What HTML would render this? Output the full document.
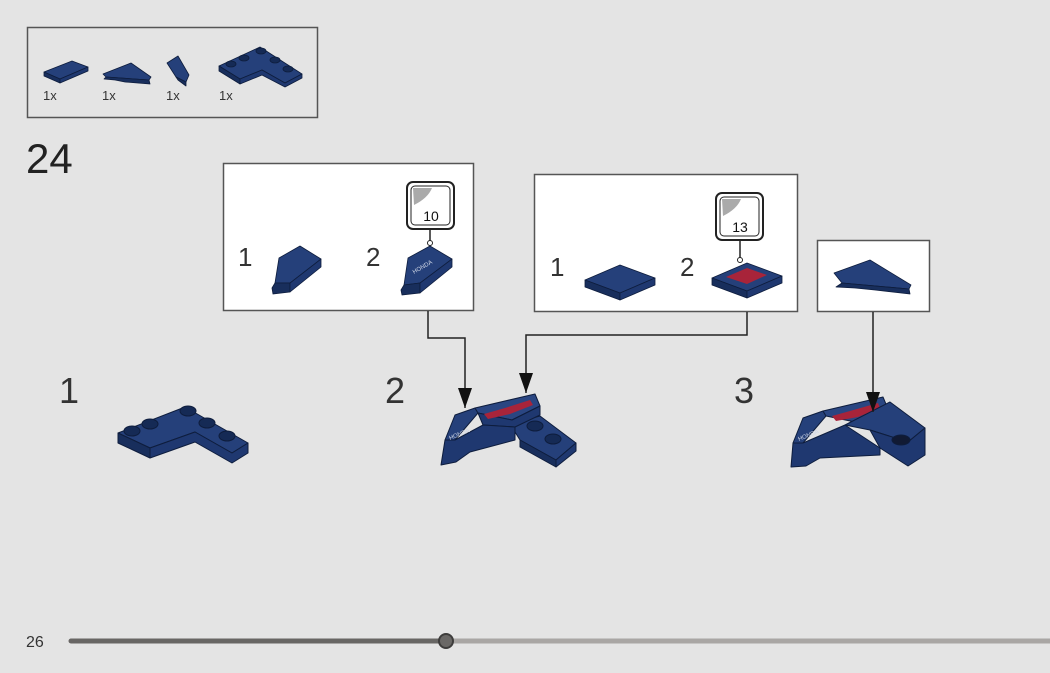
<!DOCTYPE html>
<html><head><meta charset="utf-8"><style>
html,body{margin:0;padding:0;background:#e4e4e4;}
svg{display:block;font-family:"Liberation Sans",sans-serif;}
</style></head><body>
<svg width="1050" height="673" viewBox="0 0 1050 673" xmlns="http://www.w3.org/2000/svg">
<defs>
<marker id="ar" viewBox="0 0 20 14" refX="20" refY="7" markerWidth="20" markerHeight="14" orient="auto" markerUnits="userSpaceOnUse">
<path d="M0,0 L20,7 L0,14 Z" fill="#111"/></marker>
</defs>
<rect width="1050" height="673" fill="#e4e4e4"/>

<rect x="27.5" y="27.5" width="290" height="90" fill="#e4e4e4" stroke="#555" stroke-width="1.5"/>
<g stroke="#0e1d3d" stroke-width="0.8" stroke-linejoin="round">
 <polygon points="44,72 72,61 88,67 60,79" fill="#25407a"/>
 <polygon points="44,72 60,79 60,83 44,76" fill="#182e5c"/>
 <polygon points="60,79 88,67 88,71 60,83" fill="#1f3870"/>
 <polygon points="103,74 131,63 151,77 149,80 106,77" fill="#25407a"/>
 <polygon points="106,77 149,80 150,84 125,82 115,80 104,79" fill="#182e5c"/>
 <polygon points="167,63 178,56 189,75 186,82 176,77" fill="#25407a"/>
 <polygon points="176,77 186,82 186,86 178,80" fill="#182e5c"/>
 <polygon points="219,66 260,47 302,74 285,83 262,70 240,79" fill="#25407a"/>
 <polygon points="219,66 240,79 240,84 219,71" fill="#182e5c"/>
 <polygon points="240,79 262,70 285,83 302,74 302,78 285,87 262,75 240,84" fill="#1f3870"/>
 <ellipse cx="231" cy="64" rx="5" ry="3" fill="#152a55"/>
 <ellipse cx="244" cy="58" rx="5" ry="3" fill="#152a55"/>
 <ellipse cx="261" cy="51" rx="5" ry="3" fill="#152a55"/>
 <ellipse cx="275" cy="60" rx="5" ry="3" fill="#152a55"/>
 <ellipse cx="288" cy="69" rx="5" ry="3" fill="#152a55"/>
</g>
<g font-size="13" fill="#333">
 <text x="43" y="100">1x</text><text x="102" y="100">1x</text><text x="166" y="100">1x</text><text x="219" y="100">1x</text>
</g>

<text x="26" y="173" font-size="42" fill="#222">24</text>

<rect x="223.5" y="163.5" width="250" height="147" fill="#fff" stroke="#555" stroke-width="1.5"/>
<rect x="534.5" y="174.5" width="263" height="137" fill="#fff" stroke="#555" stroke-width="1.5"/>
<rect x="817.5" y="240.5" width="112" height="71" fill="#fff" stroke="#555" stroke-width="1.5"/>

<g font-size="26" fill="#333">
 <text x="238" y="266">1</text><text x="366" y="266">2</text>
 <text x="550" y="276">1</text><text x="680" y="276">2</text>
</g>

<g>
 <rect x="407" y="182" width="47" height="47" rx="6" fill="#fff" stroke="#222" stroke-width="2"/>
 <rect x="411" y="186" width="39" height="39" rx="4" fill="#fff" stroke="#222" stroke-width="1"/>
 <path d="M413,188 L432,188 Q428,198 414,205 Z" fill="#aaa"/>
 <text x="431" y="221" font-size="14" text-anchor="middle" fill="#111">10</text>
 <line x1="430" y1="229" x2="430" y2="241" stroke="#222" stroke-width="1.5"/>
 <circle cx="430" cy="243" r="2.5" fill="#fff" stroke="#222"/>
 <rect x="716" y="193" width="47" height="47" rx="6" fill="#fff" stroke="#222" stroke-width="2"/>
 <rect x="720" y="197" width="39" height="39" rx="4" fill="#fff" stroke="#222" stroke-width="1"/>
 <path d="M722,199 L741,199 Q737,209 723,216 Z" fill="#aaa"/>
 <text x="740" y="232" font-size="14" text-anchor="middle" fill="#111">13</text>
 <line x1="740" y1="240" x2="740" y2="258" stroke="#222" stroke-width="1.5"/>
 <circle cx="740" cy="260" r="2.5" fill="#fff" stroke="#222"/>
</g>

<g stroke="#0e1d3d" stroke-width="0.8" stroke-linejoin="round">
 <polygon points="279,258 300,246 321,259 305,275 290,283 275,283" fill="#25407a"/>
 <polygon points="272,288 275,283 290,283 290,292 273,294" fill="#182e5c"/>
 <polygon points="290,283 321,259 321,267 290,292" fill="#1f3870"/>
 <polygon points="408,258 430,246 452,259 436,275 420,283 404,285" fill="#25407a"/>
 <polygon points="401,290 404,285 420,283 420,293 402,295" fill="#182e5c"/>
 <polygon points="420,283 452,259 452,267 420,293" fill="#1f3870"/>
 <polygon points="585,280 620,265 655,278 620,293" fill="#25407a"/>
 <polygon points="585,280 620,293 620,300 585,287" fill="#182e5c"/>
 <polygon points="620,293 655,278 655,285 620,300" fill="#1f3870"/>
 <polygon points="712,278 747,263 782,276 747,291" fill="#25407a"/>
 <polygon points="712,278 747,291 747,298 712,285" fill="#182e5c"/>
 <polygon points="747,291 782,276 782,283 747,298" fill="#1f3870"/>
 <polygon points="726,277 747,268 767,275 747,284" fill="#a8243a" stroke="none"/>
 <polygon points="834,273 870,260 911,285 909,289 842,283" fill="#25407a"/>
 <polygon points="842,283 909,289 910,294 875,290 855,288 836,287" fill="#182e5c"/>
</g>
<text x="414" y="274" font-size="6" fill="#cfd6e6" transform="rotate(-30 414 274)">HONDA</text>

<g font-size="36" fill="#333">
 <text x="59" y="403">1</text><text x="385" y="403">2</text><text x="734" y="403">3</text>
</g>

<g stroke="#0e1d3d" stroke-width="1" stroke-linejoin="round">
 <polygon points="118,433 185,407 248,443 232,453 195,432 150,448" fill="#25407a"/>
 <polygon points="118,433 150,448 150,458 118,443" fill="#182e5c"/>
 <polygon points="150,448 195,432 232,453 248,443 248,453 232,463 195,442 150,458" fill="#1f3870"/>
 <ellipse cx="132" cy="431" rx="8" ry="5" fill="#152a55"/>
 <ellipse cx="150" cy="424" rx="8" ry="5" fill="#152a55"/>
 <ellipse cx="188" cy="411" rx="8" ry="5" fill="#152a55"/>
 <ellipse cx="207" cy="423" rx="8" ry="5" fill="#152a55"/>
 <ellipse cx="227" cy="436" rx="8" ry="5" fill="#152a55"/>
</g>

<g stroke="#0e1d3d" stroke-width="1" stroke-linejoin="round">
 <polygon points="510,424 540,416 576,443 556,460 520,440" fill="#25407a"/>
 <polygon points="520,440 556,460 556,467 520,447" fill="#182e5c"/>
 <polygon points="556,460 576,443 576,451 556,467" fill="#1f3870"/>
 <ellipse cx="535" cy="426" rx="8" ry="5" fill="#152a55"/>
 <ellipse cx="553" cy="439" rx="8" ry="5" fill="#152a55"/>
 <polygon points="455,415 475,408 478,413 455,440 445,440" fill="#25407a"/>
 <polygon points="475,408 535,394 540,406 512,420 478,413" fill="#2a4682"/>
 <polygon points="478,413 512,420 540,406 540,415 515,427 483,425" fill="#1f3870"/>
 <polygon points="445,440 455,440 483,425 515,427 515,440 470,452 456,462 441,465" fill="#1f3870"/>
 <polygon points="484,414 505,408 530,400 533,405 510,414 488,419" fill="#a8243a" stroke="none"/>
</g>
<text x="450" y="440" font-size="6" fill="#cfd6e6" transform="rotate(-22 450 440)">HONDA</text>

<g stroke="#0e1d3d" stroke-width="1" stroke-linejoin="round">
 <polygon points="803,418 823,411 826,416 803,443 793,443" fill="#25407a"/>
 <polygon points="823,411 883,397 888,409 860,423 826,416" fill="#2a4682"/>
 <polygon points="832,416 850,411 878,403 880,408 858,417 836,421" fill="#a8243a" stroke="none"/>
 <polygon points="845,425 890,402 925,428 908,442 870,430" fill="#25407a"/>
 <polygon points="870,430 908,442 925,428 925,455 908,466 880,448" fill="#1f3870"/>
 <ellipse cx="901" cy="440" rx="9" ry="5" fill="#111a33"/>
 <polygon points="793,443 803,443 845,425 880,448 880,455 820,458 806,466 791,467" fill="#1f3870"/>
</g>
<text x="799" y="441" font-size="6" fill="#cfd6e6" transform="rotate(-22 799 441)">HONDA</text>

<!-- connectors on top -->
<g fill="none" stroke="#222" stroke-width="1.5">
 <polyline points="428,311 428,338 465,338 465,408" marker-end="url(#ar)"/>
 <polyline points="747,312 747,335 526,335 526,393" marker-end="url(#ar)"/>
 <line x1="873" y1="312" x2="873" y2="412" marker-end="url(#ar)"/>
</g>

<text x="26" y="647" font-size="16" fill="#333">26</text>
<line x1="446" y1="641" x2="1050" y2="641" stroke="#a9a6a4" stroke-width="5"/>
<line x1="71" y1="641" x2="446" y2="641" stroke="#686664" stroke-width="5" stroke-linecap="round"/>
<circle cx="446" cy="641" r="7" fill="#6a6866" stroke="#3e3d3c" stroke-width="2"/>
</svg>
</body></html>
